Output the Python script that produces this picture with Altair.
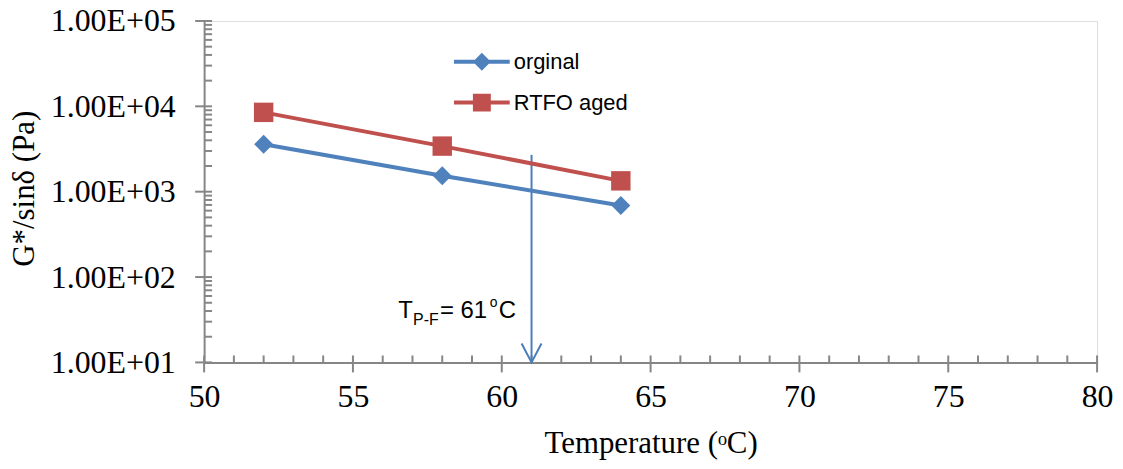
import altair as alt
import pandas as pd

# ---- data ----
temps = [52, 58, 64]
orginal = [3600, 1540, 690]
rtfo_aged = [8500, 3420, 1340]
series_names = ["orginal", "RTFO aged"]
series_colors = ["#4F81BD", "#C0504D"]
series_shapes = ["diamond", "square"]
series_sizes = [361, 380]

x_major = [50, 55, 60, 65, 70, 75, 80]
x_minor = [v for v in range(51, 80) if v % 5 != 0]
y_major = [10, 100, 1000, 10000, 100000]
y_minor = [m * 10 ** k for k in range(1, 5) for m in range(2, 10)]

arrow_T = [61]
arrow_top = [2700]
arrow_bottom = [10]
note_y = [33]
note_pieces = ["T", "P-F", "= 61", "o", "C"]

# ---- tables ----
df = pd.DataFrame({
    "T": temps * 2,
    "G": orginal + rtfo_aged,
    "series": [series_names[0]] * len(temps) + [series_names[1]] * len(temps),
})
arrow_df = pd.DataFrame({"T": arrow_T, "top": arrow_top, "bottom": arrow_bottom})

GRAY = "#868686"
SERIF = "Liberation Serif"
SANS = "Liberation Sans"

xs = alt.Scale(domain=[50, 80], nice=False, zero=False)
ys = alt.Scale(type="log", domain=[10, 100000], nice=False)
cs = alt.Scale(domain=series_names, range=series_colors)

x_axis = alt.Axis(values=x_major, title="Temperature (ᵒC)", titleFont=SERIF, titleFontSize=31,
                  titleFontWeight="normal", titleColor="black", titleY=90, titleBaseline="alphabetic",
                  labelFont=SERIF, labelFontSize=32, labelColor="black", labelPadding=19,
                  ticks=False, grid=False, domainColor=GRAY, domainWidth=2, labelFlush=False)
y_axis = alt.Axis(values=y_major, title="G*/sinδ (Pa)", titleFont=SERIF, titleFontSize=31,
                  titleFontWeight="normal", titleColor="black", titleX=-171, titleY=168,
                  titleBaseline="alphabetic", titleAngle=270,
                  labelExpr="replace(upper(format(datum.value, '.2e')), 'E+', 'E+0')",
                  labelFont=SERIF, labelFontSize=32, labelColor="black", labelPadding=29,
                  ticks=False, grid=False, domainColor=GRAY, domainWidth=2, labelFlush=False)

X = alt.X("T:Q", scale=xs, axis=x_axis)
Y = alt.Y("G:Q", scale=ys, axis=y_axis)

series_layers = []
for name, col, shp, sz in zip(series_names, series_colors, series_shapes, series_sizes):
    base = alt.Chart(df).transform_filter(alt.datum.series == name)
    series_layers.append(base.mark_line(strokeWidth=4, color=col).encode(x=X, y=Y))
    series_layers.append(base.mark_point(filled=True, opacity=1, shape=shp, size=sz,
                                         color=col).encode(x=X, y=Y))

legend_paths = [
    "M-2.8,-0.2H2.8V0.2H-2.8Z M-0.9,0L0,-0.9L0.9,0L0,0.9Z",
    "M-2.8,-0.2H2.8V0.2H-2.8Z M-0.9,-0.9H0.9V0.9H-0.9Z",
]
leg = alt.Legend(orient="none", legendX=268, legendY=30, title=None, labelFont=SANS,
                 labelFontSize=22, labelColor="black", symbolSize=400, symbolStrokeWidth=0,
                 labelOffset=21, rowPadding=19, padding=0, symbolOpacity=1)
legend_layer = alt.Chart(df).mark_point(filled=True, opacity=0, size=400).encode(
    x=X, y=Y,
    color=alt.Color("series:N", scale=cs, legend=leg, sort=series_names),
    shape=alt.Shape("series:N", scale=alt.Scale(domain=series_names, range=legend_paths),
                    legend=leg, sort=series_names))

# ticks
y_min_df = pd.DataFrame({"G": y_minor})
y_maj_df = pd.DataFrame({"G": y_major})
x_min_df = pd.DataFrame({"T": x_minor})
x_maj_df = pd.DataFrame({"T": x_major})

yt_minor = alt.Chart(y_min_df).mark_rule(color=GRAY, strokeWidth=2).encode(
    y=Y, x=alt.value(0), x2=alt.value(8))
yt_major = alt.Chart(y_maj_df).mark_rule(color=GRAY, strokeWidth=2).encode(
    y=Y, x=alt.value(-9), x2=alt.value(8))
xt_minor = alt.Chart(x_min_df).mark_rule(color=GRAY, strokeWidth=2).encode(
    x=X, y=alt.value(336), y2=alt.value(343))
xt_major = alt.Chart(x_maj_df).mark_rule(color=GRAY, strokeWidth=2).encode(
    x=X, y=alt.value(336), y2=alt.value(353))

# arrow
ARROW = "#4A7EBB"
arrow_line = alt.Chart(arrow_df).mark_rule(color=ARROW, strokeWidth=2).encode(
    x=alt.X("T:Q", scale=xs, axis=x_axis),
    y=alt.Y("top:Q", scale=ys, axis=y_axis),
    y2="bottom:Q")
arrow_head = alt.Chart(arrow_df).mark_point(
    shape="M-1,-1.9L0,0L1,-1.9", filled=False, stroke=ARROW, strokeWidth=2, opacity=1,
    size=400).encode(
    x=alt.X("T:Q", scale=xs, axis=x_axis),
    y=alt.Y("bottom:Q", scale=ys, axis=y_axis))

# annotation text pieces
piece_style = [(-134, 0, 24), (-119, 7, 16), (-92, 0, 24), (-42, -11, 14), (-33, 0, 24)]
notes = []
for txt, (dx, dy, fs) in zip(note_pieces, piece_style):
    ndf = pd.DataFrame({"T": arrow_T, "G": note_y, "t": [txt]})
    notes.append(alt.Chart(ndf).mark_text(align="left", baseline="alphabetic", dx=dx, dy=dy,
                                          fontSize=fs, font=SANS, color="black").encode(
        x=X, y=Y, text="t:N"))

chart = alt.layer(
    yt_minor, yt_major, xt_minor, xt_major, arrow_line, arrow_head,
    *series_layers, legend_layer, *notes
).properties(
    width=897, height=343,
    autosize=alt.AutoSizeParams(type="none"),
    padding={"left": 197, "top": 12, "right": 18, "bottom": 98},
).configure_view(stroke="#4F81BD", strokeWidth=1).configure(background="white")

chart.save("out.html", embed_options={"renderer": "svg", "actions": False})
